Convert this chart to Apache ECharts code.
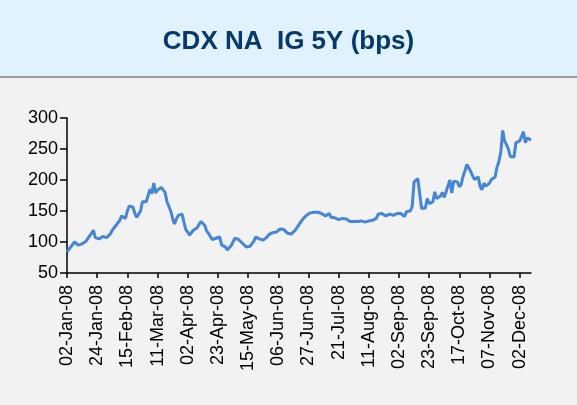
<!DOCTYPE html>
<html>
<head>
<meta charset="utf-8">
<title>CDX NA IG 5Y</title>
<script src="https://cdn.jsdelivr.net/npm/echarts@6/dist/echarts.min.js"></script>
<style>
  html, body { margin: 0; padding: 0; background: #f2f2f2; }
  #chart { width: 577px; height: 405px; }
</style>
</head>
<body>
<div id="chart"></div>
<script>
// labelled dates on the x axis, one every 16 trading days
var tickLabels = ['02-Jan-08', '24-Jan-08', '15-Feb-08', '11-Mar-08', '02-Apr-08', '23-Apr-08',
  '15-May-08', '06-Jun-08', '27-Jun-08', '21-Jul-08', '11-Aug-08', '02-Sep-08',
  '23-Sep-08', '17-Oct-08', '07-Nov-08', '02-Dec-08']
var tickStep = 16

// daily spread, bps
var spread = [
  84, 88, 92, 96, 100, 97, 95, 98, 97, 99, 101, 104, 110, 114, 119, 107,
  106, 105, 103, 109, 110, 107, 108, 113, 119, 123, 127, 130, 135, 142, 139, 138,
  150, 158, 158, 156, 146, 140, 137, 150, 165, 166, 165, 166, 185, 178, 195, 179,
  184, 185, 188, 190, 180, 165, 162, 150, 138, 129, 137, 143, 144, 145, 132, 120,
  116, 111, 114, 119, 122, 123, 125, 133, 130, 127, 118, 114, 109, 104, 102, 106,
  107, 108, 95, 96, 92, 87, 90, 94, 96, 106, 105, 104, 101, 98, 97, 92,
  92, 93, 95, 101, 108, 107, 105, 104, 103, 103, 108, 112, 111, 115, 113, 116,
  118, 121, 123, 120, 117, 114, 111, 113, 116, 119, 122, 128, 131, 137, 140, 143,
  146, 147, 149, 148, 150, 148, 145, 146, 146, 142, 144, 146, 140, 141, 139, 138,
  136, 134, 138, 138, 137, 136, 133, 131, 133, 134, 133, 133, 134, 134, 132, 133,
  134, 135, 135, 136, 138, 145, 147, 146, 143, 142, 144, 145, 144, 143, 144, 146,
  147, 146, 145, 141, 149, 149, 150, 157, 197, 200, 202, 201, 154, 151, 155, 170,
  162, 163, 165, 181, 170, 172, 174, 180, 172, 181, 182, 200, 179, 198, 198, 197,
  189, 193, 206, 215, 225, 228, 214, 207, 201, 204, 205, 190, 184, 195, 190, 188,
  195, 201, 203, 205, 221, 230, 245, 280, 263, 257, 250, 238, 236, 237, 260, 261,
  263, 270, 278, 260, 268, 265, 264
]

var yTicks = [50, 100, 150, 200, 250, 300]

var font = "'Liberation Sans', Arial, sans-serif"
var tickPos = tickLabels.map(function (d, i) { return i * tickStep })

var myChart = echarts.init(document.getElementById('chart'))
var option = {
  backgroundColor: '#f2f2f2',
  animation: false,
  graphic: [
    {
      type: 'rect',
      shape: { x: 0, y: 0, width: 577, height: 76 },
      style: { fill: '#dff2fe' },
      z: -1
    },
    {
      type: 'rect',
      shape: { x: 0, y: 76, width: 577, height: 2 },
      style: { fill: '#9b9b9b' },
      z: -1
    }
  ],
  title: {
    text: 'CDX NA  IG 5Y (bps)',
    left: 'center',
    top: 24,
    textStyle: {
      fontFamily: font,
      fontSize: 26,
      fontWeight: 'bold',
      color: '#07386b'
    }
  },
  grid: {
    left: 67,
    right: 46,
    top: 118,
    bottom: 132
  },
  xAxis: {
    type: 'value',
    min: 0,
    max: spread.length - 1,
    splitLine: { show: false },
    axisLine: { lineStyle: { color: '#000', width: 1.5 } },
    axisTick: {
      customValues: tickPos,
      length: 5,
      lineStyle: { color: '#000', width: 1.5 }
    },
    axisLabel: {
      customValues: tickPos,
      rotate: 90,
      margin: 12,
      fontFamily: font,
      fontSize: 18,
      color: '#000',
      formatter: function (v) { return tickLabels[Math.round(v / tickStep)] }
    }
  },
  yAxis: {
    type: 'value',
    min: yTicks[0],
    max: yTicks[yTicks.length - 1],
    interval: 50,
    splitLine: { show: false },
    axisLine: { show: true, lineStyle: { color: '#000', width: 1.5 } },
    axisTick: { show: true, length: 7, lineStyle: { color: '#000', width: 1.5 } },
    axisLabel: {
      margin: 9,
      fontFamily: font,
      fontSize: 18,
      color: '#000'
    }
  },
  series: [
    {
      type: 'line',
      data: spread.map(function (v, i) { return [i, v] }),
      showSymbol: false,
      lineStyle: { color: '#4586d8', width: 3 }
    }
  ]
}
myChart.setOption(option)
</script>
</body>
</html>
